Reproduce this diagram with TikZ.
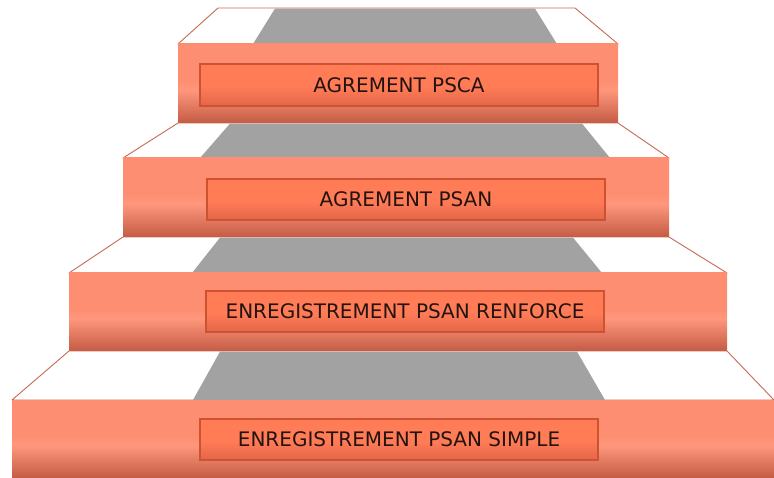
\documentclass[tikz,border=0pt]{standalone}
\usepackage{fontspec}
\setmainfont{DejaVu Sans}
\definecolor{face}{HTML}{FD8E72}
\definecolor{facelight}{HTML}{FF977D}
\definecolor{facedark}{HTML}{C45C45}
\definecolor{lab}{HTML}{FF7C57}
\definecolor{labdark}{HTML}{E2664A}
\definecolor{labline}{HTML}{CF522F}
\definecolor{edge}{HTML}{C86A52}
\definecolor{carpet}{HTML}{A2A2A2}
\definecolor{txt}{HTML}{24140F}
\pgfdeclareverticalshading{riserv}{100bp}{color(0bp)=(facedark); color(25bp)=(facedark); color(46bp)=(facelight); color(52bp)=(face); color(75bp)=(face); color(100bp)=(face)}
\pgfdeclareverticalshading{labv}{100bp}{color(0bp)=(labdark); color(25bp)=(labdark); color(48bp)=(lab); color(75bp)=(lab); color(100bp)=(lab)}
\tikzset{
  tread/.style={fill=white, draw=edge, line width=0.9pt, line join=round},
  carpetfill/.style={fill=carpet},
  riser/.style={shading=riserv, draw=none},
  labelbox/.style={draw=labline, line width=1.1pt, shading=labv,
    minimum width=398pt, minimum height=41pt, inner sep=0pt,
    font=\fontsize{20}{23}\selectfont, text=txt},
}
\begin{document}
\begin{tikzpicture}[x=1pt,y=-1pt]
\useasboundingbox (0,0) rectangle (774,478);
% ---- step 4 (bottom)
\path[tread] (69,351) -- (727,351) -- (774,400) -- (12,400) -- cycle;
\fill[carpetfill] (220,351.6) -- (577,351.6) -- (605,400) -- (193,400) -- cycle;
\shade[riser] (12,400) rectangle (774,478);
% ---- step 3
\path[tread] (123,237) -- (669,237) -- (727,273) -- (69,273) -- cycle;
\fill[carpetfill] (220,237.6) -- (573,237.6) -- (602,273) -- (192,273) -- cycle;
\shade[riser] (69,273) rectangle (727,351);
% ---- step 2
\path[tread] (178,123) -- (618,123) -- (669,158) -- (123,158) -- cycle;
\fill[carpetfill] (230,123.6) -- (582,123.6) -- (610,158) -- (200,158) -- cycle;
\shade[riser] (123,158) rectangle (669,237);
% ---- step 1 (top)
\path[tread] (218,8) -- (575,8) -- (618,44) -- (178,44) -- cycle;
\fill[carpetfill] (275,8.6) -- (535,8.6) -- (557,44) -- (253,44) -- cycle;
\shade[riser] (178,44) rectangle (618,123);
% ---- labels
\node[labelbox, minimum height=42pt] (l1) at (399,85) {AGREMENT PSCA};
\node[labelbox] (l2) at (406,199.5) {AGREMENT PSAN};
\node[labelbox] (l3) at (405,311.5) {ENREGISTREMENT PSAN RENFORCE};
\node[labelbox] (l4) at (399,439.5) {ENREGISTREMENT PSAN SIMPLE};
\end{tikzpicture}
\end{document}
